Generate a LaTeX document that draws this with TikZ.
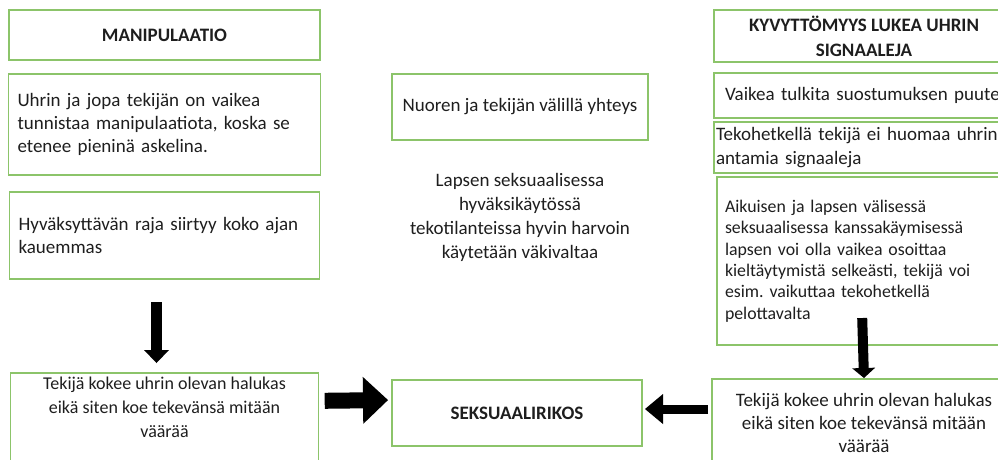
\documentclass[tikz,border=0pt]{standalone}
\usepackage{fontspec}
\setmainfont{Carlito}
\usepackage{xcolor}
\usetikzlibrary{positioning,arrows.meta}

\definecolor{boxgreen}{RGB}{140,196,106}
\definecolor{textgray}{RGB}{30,30,30}

\begin{document}
\frenchspacing
\begin{tikzpicture}[
	x=1pt, y=-1pt,
	font=\fontsize{19}{23.4}\selectfont,
	text=textgray,
	box/.style={
		rectangle,
		draw=boxgreen,
		line width=1.5pt,
		outer sep=0pt
	},
	title/.style={
		box,
		align=center,
		font=\fontsize{19}{24}\selectfont\bfseries
	},
	textbox/.style={
		box,
		align=left
	},
	fatarrow/.style n args={3}{
		draw=black,
		line width=#1,
		-{Triangle[width=#2, length=#3, line width=0pt]}
	}
	]
	\useasboundingbox (0,0) rectangle (998,459);
	\clip (0,0) rectangle (998,459);

	% left column
	\node (manip) [title, minimum width=311, minimum height=50] at (164.5,35) {MANIPULAATIO};
	\node (manipone) [textbox, below=14pt of manip, inner xsep=9pt, text width=294pt, minimum height=101] {Uhrin ja jopa tekijän on vaikea\\tunnistaa manipulaatiota, koska se\\etenee pieninä askelina.};
	\node (maniptwo) [textbox, below=17pt of manipone, inner xsep=9pt, text width=292pt, minimum height=87] {Hyväksyttävän raja siirtyy koko ajan\\kauemmas};
	\node (tekleft) [align=center, below=94pt of maniptwo, minimum width=308, minimum height=66, font=\fontsize{18}{24}\selectfont] {Tekijä kokee uhrin olevan halukas\\eikä siten koe tekevänsä mitään\\väärää};
	\draw[box] (tekleft.north west) rectangle ([yshift=-30pt]tekleft.south east);

	% middle
	\node (yhteys) [box, minimum width=256, minimum height=66] at (520,107) {Nuoren ja tekijän välillä yhteys};
	\node (lapsen) [align=center, below=30pt of yhteys, font=\fontsize{19}{24}\selectfont] {Lapsen seksuaalisessa\\hyväksikäytössä\\tekotilanteissa hyvin harvoin\\käytetään väkivaltaa};
	\node (seks) [title, minimum width=250, minimum height=66] at (517,413) {SEKSUAALIRIKOS};

	% right column
	\node (kyvyt) [title, minimum width=300, minimum height=52, font=\fontsize{19}{25}\selectfont\bfseries] at (864,36) {KYVYTTÖMYYS LUKEA UHRIN\\SIGNAALEJA};
	\node (vaikea) [textbox, below=11pt of kyvyt, inner xsep=11pt, text width=278pt, minimum height=45] {Vaikea tulkita suostumuksen puute};
	\node (teko) [textbox, below=4pt of vaikea, inner xsep=2pt, text width=296pt, minimum height=51] {Tekohetkellä tekijä ei huomaa uhrin\\antamia signaaleja};
	\node (aik) [textbox, below=4pt of teko, inner xsep=8pt, text width=278pt, minimum height=168, font=\fontsize{17.8}{21.4}\selectfont] {Aikuisen ja lapsen välisessä\\seksuaalisessa kanssakäymisessä\\lapsen voi olla vaikea osoittaa\\kieltäytymistä selkeästi, tekijä voi\\esim. vaikuttaa tekohetkellä\\pelottavalta};
	\node (tekright) [box, align=center, below=34pt of aik, minimum width=304, minimum height=88] {Tekijä kokee uhrin olevan halukas\\eikä siten koe tekevänsä mitään\\väärää};

	% arrows
	\draw[fatarrow={11pt}{25pt}{13pt}, shorten <=23pt, shorten >=10pt] ([xshift=-8pt]maniptwo.south) -- ([xshift=-8pt]tekleft.north);
	\draw[fatarrow={16pt}{47pt}{25pt}, shorten <=6pt, shorten >=4pt] ([yshift=6pt]tekleft.east) -- ([yshift=13pt]seks.west);
	\draw[fatarrow={10pt}{23pt}{10pt}, shorten <=-27pt, shorten >=1pt] ([xshift=-1pt]aik.south) -- (tekright.north);
	\draw[fatarrow={9pt}{30pt}{18pt}, shorten <=4pt, shorten >=3pt] ([yshift=14pt]tekright.west) -- ([yshift=4pt]seks.east);
\end{tikzpicture}
\end{document}
